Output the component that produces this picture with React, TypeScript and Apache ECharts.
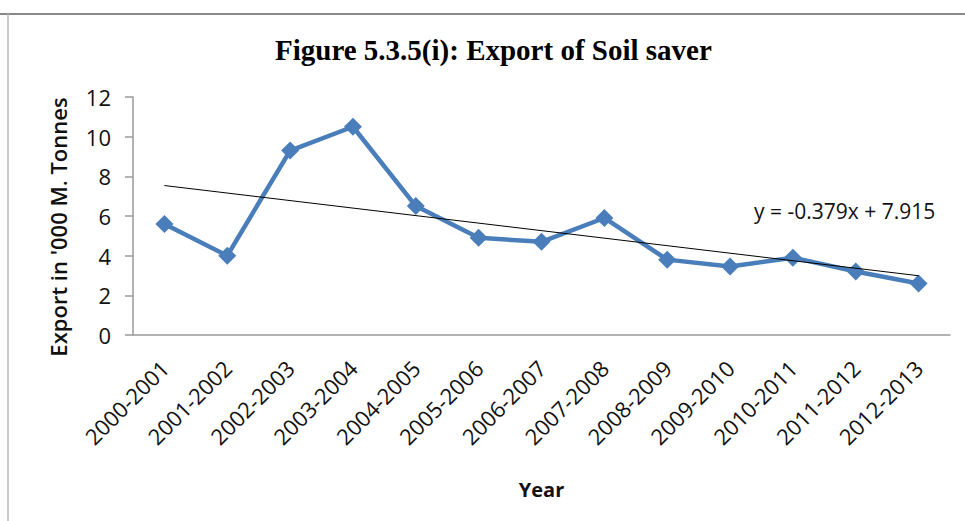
import React, { useEffect, useRef } from "react";
import * as echarts from "echarts";

const categories = [
  "2000-2001", "2001-2002", "2002-2003", "2003-2004", "2004-2005", "2005-2006", "2006-2007",
  "2007-2008", "2008-2009", "2009-2010", "2010-2011", "2011-2012", "2012-2013",
];
const exportValues = [5.6, 4.0, 9.3, 10.5, 6.5, 4.9, 4.7, 5.9, 3.8, 3.45, 3.9, 3.2, 2.6];
const trendEnds = [7.536, 2.988];
const trendLabel = "y = -0.379x + 7.915";
const yTicks = { min: 0, max: 12, interval: 2 };

export default function App() {
  const ref = useRef<HTMLDivElement>(null);
  useEffect(() => {
    document.body.style.margin = "0";
    const chart = echarts.init(ref.current!, null, { renderer: "svg" });
    const trendData = categories.map((_, i) =>
      i === 0 ? trendEnds[0] : i === categories.length - 1 ? trendEnds[1] : null
    );
    chart.setOption({
      animation: false,
      backgroundColor: "#fff",
      title: {
        text: "Figure 5.3.5(i): Export of Soil saver",
        left: 270,
        top: 30,
        textStyle: {
          fontFamily: "Liberation Serif",
          fontWeight: "bold",
          fontSize: 29,
          color: "#000",
        },
      },
      graphic: [
        { type: "line", shape: { x1: 0, y1: 14, x2: 965, y2: 14 }, style: { stroke: "#8a8a8a", lineWidth: 2 } },
        { type: "line", shape: { x1: 8, y1: 14, x2: 8, y2: 521 }, style: { stroke: "#bbbbbb", lineWidth: 1.5 } },
        {
          type: "text",
          left: 754,
          top: 200,
          style: { text: trendLabel, fontFamily: "Open Sans", fontSize: 21, fill: "#111" },
        },
      ],
      grid: { left: 133, right: 15, top: 97, bottom: 186, containLabel: false },
      xAxis: {
        type: "category",
        data: categories,
        boundaryGap: true,
        name: "Year",
        nameLocation: "middle",
        nameGap: 144,
        nameTextStyle: { fontFamily: "Open Sans", fontWeight: "bold", fontSize: 20, color: "#111" },
        axisLine: { show: true, lineStyle: { color: "#9a9a9a", width: 1.5 } },
        axisTick: { show: false },
        axisLabel: {
          rotate: 45,
          interval: 0,
          margin: 29,
          fontFamily: "Open Sans",
          fontSize: 22,
          color: "#111",
        },
        splitLine: { show: false },
      },
      yAxis: {
        type: "value",
        min: yTicks.min,
        max: yTicks.max,
        interval: yTicks.interval,
        name: "Export in '000 M. Tonnes",
        nameLocation: "middle",
        nameRotate: 90,
        nameGap: 64,
        nameTextStyle: {
          fontFamily: "Open Sans",
          fontWeight: 600,
          fontSize: 22,
          color: "#111",
          padding: [0, 22, 0, 0],
        },
        axisLine: { show: true, lineStyle: { color: "#9a9a9a", width: 1.5 } },
        axisTick: { show: true, inside: false, length: 8, lineStyle: { color: "#9a9a9a", width: 1.5 } },
        axisLabel: { margin: 22, fontFamily: "Open Sans", fontSize: 22, color: "#111" },
        splitLine: { show: false },
      },
      series: [
        {
          type: "line",
          data: exportValues,
          symbol: "diamond",
          symbolSize: 18,
          lineStyle: { color: "#4A7EBB", width: 4.5 },
          itemStyle: { color: "#4A7EBB" },
          z: 2,
        },
        {
          type: "line",
          data: trendData,
          connectNulls: true,
          symbol: "none",
          lineStyle: { color: "#000", width: 1 },
          z: 3,
        },
      ],
    });
    return () => chart.dispose();
  }, []);
  return <div ref={ref} style={{ width: 965, height: 521 }} />;
}
